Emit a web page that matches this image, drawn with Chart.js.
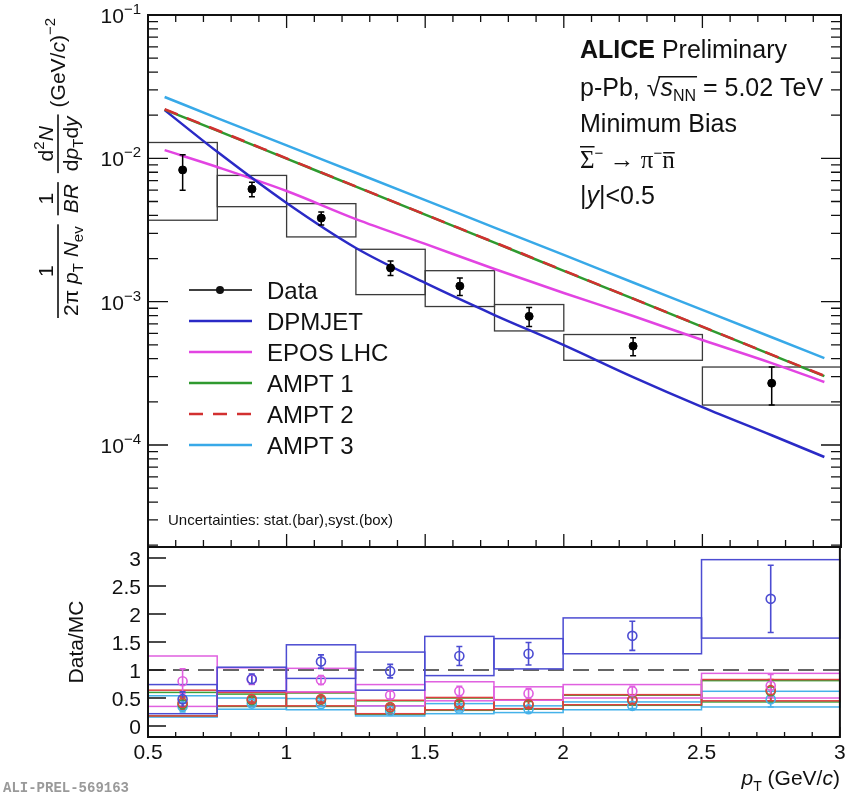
<!DOCTYPE html>
<html><head><meta charset="utf-8">
<script src="https://cdn.jsdelivr.net/npm/chart.js@4.4.0/dist/chart.umd.min.js"></script>
<style>
html,body{margin:0;padding:0;background:#fff;}
#wrap{position:relative;width:846px;height:796px;background:#fff;}
.layer{position:absolute;left:0;top:0;width:846px;height:796px;}
</style></head><body>
<div id="wrap">
<div class="layer"><canvas id="topChart" width="846" height="796"></canvas></div>
<div class="layer"><canvas id="ratioChart" width="846" height="796"></canvas></div>
</div>
<script>
// ---------------- data ----------------
const ptBinEdges = [0.5, 0.75, 1.0, 1.25, 1.5, 1.75, 2.0, 2.5, 3.0];
const ptCenters  = [0.625, 0.875, 1.125, 1.375, 1.625, 1.875, 2.25, 2.75];
const dataYield  = [8.3e-3, 6.1e-3, 3.83e-3, 1.72e-3, 1.285e-3, 7.9e-4, 4.9e-4, 2.7e-4];
const dataStat   = [2.3e-3, 0.7e-3, 0.4e-3, 0.2e-3, 0.18e-3, 1.2e-4, 0.7e-4, 0.8e-4];
const dataSyst   = [4.6e-3, 1.5e-3, 1.0e-3, 0.6e-3, 0.36e-3, 1.65e-4, 1.0e-4, 0.8e-4];

const modelPt = [0.56, 0.75, 1.0, 1.25, 1.5, 1.75, 2.0, 2.25, 2.5, 2.75, 2.94];
const dpmjet  = [2.17e-2, 1.11e-2, 4.88e-3, 2.37e-3, 1.35e-3, 8.07e-4, 4.98e-4, 2.98e-4, 1.84e-4, 1.17e-4, 8.25e-5];
const eposLHC = [1.14e-2, 8.70e-3, 5.92e-3, 3.77e-3, 2.53e-3, 1.69e-3, 1.15e-3, 7.94e-4, 5.40e-4, 3.73e-4, 2.75e-4];
const ampt1   = [2.19e-2, 1.56e-2, 9.95e-3, 6.35e-3, 4.05e-3, 2.58e-3, 1.64e-3, 1.05e-3, 6.68e-4, 4.26e-4, 3.02e-4];
const ampt2   = [2.20e-2, 1.57e-2, 1.00e-2, 6.37e-3, 4.06e-3, 2.59e-3, 1.65e-3, 1.05e-3, 6.70e-4, 4.27e-4, 3.04e-4];
const ampt3   = [2.68e-2, 1.91e-2, 1.23e-2, 7.93e-3, 5.11e-3, 3.29e-3, 2.12e-3, 1.36e-3, 8.77e-4, 5.65e-4, 4.04e-4];

// Data/MC ratios
const ratioDpmjet     = [0.48, 0.84, 1.15, 0.98, 1.25, 1.29, 1.61, 2.27];
const ratioDpmjetStat = [0.13, 0.09, 0.12, 0.12, 0.17, 0.20, 0.26, 0.60];
const ratioDpmjetSyst = [0.26, 0.21, 0.30, 0.34, 0.35, 0.27, 0.32, 0.70];
const ratioEpos       = [0.80, 0.83, 0.82, 0.55, 0.62, 0.58, 0.62, 0.72];
const ratioEposStat   = [0.22, 0.09, 0.08, 0.07, 0.09, 0.09, 0.09, 0.20];
const ratioEposSyst   = [0.45, 0.21, 0.21, 0.19, 0.17, 0.12, 0.12, 0.22];
const ratioAmpt1      = [0.39, 0.46, 0.47, 0.33, 0.39, 0.38, 0.46, 0.62];
const ratioAmpt1Stat  = [0.11, 0.05, 0.05, 0.04, 0.05, 0.06, 0.06, 0.19];
const ratioAmpt1Syst  = [0.21, 0.11, 0.12, 0.12, 0.11, 0.08, 0.09, 0.19];
const ratioAmpt2      = [0.41, 0.48, 0.48, 0.34, 0.40, 0.39, 0.47, 0.64];
const ratioAmpt2Stat  = [0.11, 0.05, 0.05, 0.04, 0.06, 0.06, 0.07, 0.19];
const ratioAmpt2Syst  = [0.23, 0.12, 0.12, 0.12, 0.11, 0.08, 0.09, 0.19];
const ratioAmpt3      = [0.35, 0.40, 0.39, 0.27, 0.31, 0.30, 0.36, 0.48];
const ratioAmpt3Stat  = [0.10, 0.04, 0.04, 0.03, 0.04, 0.05, 0.05, 0.14];
const ratioAmpt3Syst  = [0.19, 0.10, 0.10, 0.09, 0.09, 0.06, 0.07, 0.14];

const yDecadeExponents = [-1, -2, -3, -4];
const ratioTickValues  = [0, 0.5, 1, 1.5, 2, 2.5, 3];
const ratioTickLabels  = ['0', '0.5', '1', '1.5', '2', '2.5', '3'];
const xTickValues      = [0.5, 1, 1.5, 2, 2.5, 3];
const xTickLabels      = ['0.5', '1', '1.5', '2', '2.5', '3'];
const legendLabels     = ['Data', 'DPMJET', 'EPOS LHC', 'AMPT 1', 'AMPT 2', 'AMPT 3'];

// ---------------- style ----------------
const FONT = '"Liberation Sans", Arimo, Arial, Helvetica, sans-serif';
const SERIF = '"Liberation Serif", "DejaVu Serif", serif';
const C = { dpm:'#2a2ac6', epos:'#e244e2', a1:'#2f9a2f', a2:'#d23030', a3:'#38a9e8' };
const CR = { dpm:'#4c4cd2', epos:'#e060e0', a1:'#3aa03a', a2:'#e04040', a3:'#45b2ea' };
const INK = '#111';

function setFont(ctx, r){ ctx.font = `${r.st||'normal'} ${r.w||'normal'} ${r.s}px ${r.f||FONT}`; }
function runsWidth(ctx, runs){ let w=0; for(const r of runs){ setFont(ctx,r); w += ctx.measureText(r.t).width; } return w; }
function drawRuns(ctx, x, y, runs){
  ctx.textAlign='left'; ctx.textBaseline='alphabetic';
  let cx=x; const pos=[];
  for(const r of runs){ setFont(ctx,r); ctx.fillText(r.t, cx, y+(r.dy||0)); const w=ctx.measureText(r.t).width; pos.push([cx,w]); cx+=w; }
  return pos;
}
function drawFrac(ctx,u,num,den,S){
  const wn=runsWidth(ctx,num), wd=runsWidth(ctx,den); const w=Math.max(wn,wd)+4;
  drawRuns(ctx,u+(w-wn)/2,-5,num);
  drawRuns(ctx,u+(w-wd)/2,20,den);
  ctx.fillRect(u,-0.8,w,1.6);
  return w;
}

function frame(ctx, a){
  ctx.save(); ctx.strokeStyle=INK; ctx.lineWidth=2;
  ctx.strokeRect(a.left, a.top, a.right-a.left, a.bottom-a.top); ctx.restore();
}

// ---------------- top panel plugin ----------------
const topDeco = {
  id:'topDeco',
  beforeDatasetsDraw(chart){
    const {ctx, scales:{x,y}} = chart;
    ctx.save(); ctx.strokeStyle='#3a3a3a'; ctx.lineWidth=1.3;
    for(let i=0;i<ptCenters.length;i++){
      const x0=x.getPixelForValue(ptBinEdges[i]), x1=x.getPixelForValue(ptBinEdges[i+1]);
      const y0=y.getPixelForValue(dataYield[i]+dataSyst[i]), y1=y.getPixelForValue(dataYield[i]-dataSyst[i]);
      ctx.strokeRect(x0,y0,x1-x0,y1-y0);
    }
    ctx.restore();
  },
  afterDatasetsDraw(chart){
    const {ctx, scales:{x,y}} = chart;
    ctx.save(); ctx.strokeStyle='#000'; ctx.lineWidth=1.5;
    for(let i=0;i<ptCenters.length;i++){
      const px=x.getPixelForValue(ptCenters[i]);
      const y0=y.getPixelForValue(dataYield[i]+dataStat[i]), y1=y.getPixelForValue(dataYield[i]-dataStat[i]);
      ctx.beginPath(); ctx.moveTo(px,y0); ctx.lineTo(px,y1);
      ctx.moveTo(px-3,y0); ctx.lineTo(px+3,y0); ctx.moveTo(px-3,y1); ctx.lineTo(px+3,y1); ctx.stroke();
    }
    ctx.restore();
  },
  afterDraw(chart){
    const {ctx, chartArea:a, scales:{x,y}} = chart;
    ctx.save();
    frame(ctx,a);
    ctx.strokeStyle=INK; ctx.lineWidth=1.3; ctx.beginPath();
    for(let k=0;k<=25;k++){
      const v=0.5+k*0.1; const px=x.getPixelForValue(v); const major=(k%5===0);
      const L=major?13:7;
      ctx.moveTo(px,a.top); ctx.lineTo(px,a.top+L);
      ctx.moveTo(px,a.bottom); ctx.lineTo(px,a.bottom-L);
    }
    for(let d=-5; d<=-1; d++){
      for(let m=1;m<=9;m++){
        const v=m*Math.pow(10,d); if(v<y.min||v>y.max*1.0001) continue;
        const py=y.getPixelForValue(v); const L=(m===1)?20:10;
        ctx.moveTo(a.left,py); ctx.lineTo(a.left+L,py);
        ctx.moveTo(a.right,py); ctx.lineTo(a.right-L,py);
      }
    }
    ctx.stroke();
    ctx.fillStyle=INK;
    for(const e of yDecadeExponents){
      const py=y.getPixelForValue(Math.pow(10,e));
      const runs=[{t:'10',s:21},{t:'\u2212'+Math.abs(e),s:15,dy:-9}];
      const w=runsWidth(ctx,runs); drawRuns(ctx,141-w,py+8,runs);
    }
    // y title
    ctx.save(); ctx.translate(58,318); ctx.rotate(-Math.PI/2); ctx.fillStyle=INK;
    const S=21, s=15; let u=0;
    u+=drawFrac(ctx,u,[{t:'1',s:S}],[{t:'2\u03c0 ',s:S},{t:'p',s:S,st:'italic'},{t:'T',s:s,dy:5},{t:' ',s:S},{t:'N',s:S,st:'italic'},{t:'ev',s:s,dy:5}],S);
    u+=9;
    u+=drawFrac(ctx,u,[{t:'1',s:S}],[{t:'BR',s:S,st:'italic'}],S);
    u+=9;
    u+=drawFrac(ctx,u,[{t:'d',s:S},{t:'2',s:s,dy:-9},{t:'N',s:S,st:'italic'}],[{t:'d',s:S},{t:'p',s:S,st:'italic'},{t:'T',s:s,dy:5},{t:'d',s:S},{t:'y',s:S,st:'italic'}],S);
    u+=7;
    drawRuns(ctx,u,7,[{t:'(GeV/',s:S},{t:'c',s:S,st:'italic'},{t:')',s:S},{t:'\u22122',s:s,dy:-10}]);
    ctx.restore();

    // text box
    const TX=580, TS=25;
    drawRuns(ctx,TX,58,[{t:'ALICE',s:TS,w:'bold'},{t:' Preliminary',s:TS}]);
    let p=drawRuns(ctx,TX,96,[{t:'p-Pb, ',s:TS},{t:'\u221a',s:TS},{t:'s',s:TS,st:'italic'},{t:'NN',s:16,dy:5},{t:' = 5.02 TeV',s:TS}]);
    ctx.fillRect(p[1][0]+p[1][1]-2, 96-20, p[3][0]+p[3][1]-(p[1][0]+p[1][1]-2)+1, 1.5);
    drawRuns(ctx,TX,132,[{t:'Minimum Bias',s:TS}]);
    p=drawRuns(ctx,TX,168,[{t:'\u03a3',s:TS,f:SERIF},{t:'\u2212',s:15,dy:-10},{t:' \u2192 ',s:TS,f:SERIF},{t:'\u03c0',s:TS,f:SERIF},{t:'\u2212',s:15,dy:-10},{t:'n',s:TS,f:SERIF}]);
    ctx.fillRect(p[0][0], 168-22, p[0][1], 1.5);
    ctx.fillRect(p[5][0]+1, 168-16, p[5][1]-1, 1.5);
    drawRuns(ctx,TX,204,[{t:'|',s:TS},{t:'y',s:TS,st:'italic'},{t:'|<0.5',s:TS}]);

    // legend
    const legendColors=['#000',C.dpm,C.epos,C.a1,C.a2,C.a3];
    const legendY=[290,321,352,383,414,445];
    for(let i=0;i<legendLabels.length;i++){
      const ly=legendY[i];
      ctx.save(); ctx.strokeStyle=legendColors[i]; ctx.lineWidth=(i===0)?1.5:2.5;
      if(i===4) ctx.setLineDash([14,10]);
      ctx.beginPath(); ctx.moveTo(189,ly); ctx.lineTo(252,ly); ctx.stroke(); ctx.restore();
      if(i===0){ ctx.beginPath(); ctx.arc(220,ly,4,0,Math.PI*2); ctx.fill(); }
      ctx.fillStyle=INK; drawRuns(ctx,267,ly+9,[{t:legendLabels[i],s:24}]);
    }
    drawRuns(ctx,168,525,[{t:'Uncertainties: stat.(bar),syst.(box)',s:15}]);
    ctx.restore();
  }
};

const lineDS=(label,arr,color,order,dash)=>({
  label, data:modelPt.map((v,i)=>({x:v,y:arr[i]})), borderColor:color, borderWidth:2.5,
  borderDash:dash||[], pointRadius:0, fill:false, cubicInterpolationMode:'monotone', order
});

new Chart(document.getElementById('topChart'),{
  type:'line',
  data:{datasets:[
    {label:'Data', data:ptCenters.map((v,i)=>({x:v,y:dataYield[i]})), showLine:false,
     pointRadius:4, pointBackgroundColor:'#000', pointBorderColor:'#000', order:0},
    lineDS('AMPT 2',ampt2,C.a2,1,[14,10]),
    lineDS('AMPT 1',ampt1,C.a1,2),
    lineDS('DPMJET',dpmjet,C.dpm,3),
    lineDS('EPOS LHC',eposLHC,C.epos,4),
    lineDS('AMPT 3',ampt3,C.a3,5)
  ]},
  options:{
    responsive:false, animation:false, events:[],
    layout:{padding:{left:148,right:4,top:15,bottom:249}},
    plugins:{legend:{display:false},tooltip:{enabled:false}},
    scales:{
      x:{type:'linear',min:0.5,max:3,display:false},
      y:{type:'logarithmic',min:1.943e-5,max:0.1,display:false}
    }
  },
  plugins:[topDeco]
});

// ---------------- ratio panel ----------------
const ratioModels = [
  {r:ratioAmpt3, st:ratioAmpt3Stat, sy:ratioAmpt3Syst, c:CR.a3},
  {r:ratioAmpt1, st:ratioAmpt1Stat, sy:ratioAmpt1Syst, c:CR.a1},
  {r:ratioAmpt2, st:ratioAmpt2Stat, sy:ratioAmpt2Syst, c:CR.a2},
  {r:ratioEpos,  st:ratioEposStat,  sy:ratioEposSyst,  c:CR.epos},
  {r:ratioDpmjet,st:ratioDpmjetStat,sy:ratioDpmjetSyst,c:CR.dpm}
];

const ratioDeco = {
  id:'ratioDeco',
  beforeDatasetsDraw(chart){
    const {ctx, chartArea:a, scales:{x,y}} = chart;
    ctx.save();
    ctx.strokeStyle='#333'; ctx.lineWidth=1.6; ctx.setLineDash([16,9]);
    const p1=y.getPixelForValue(1);
    ctx.beginPath(); ctx.moveTo(a.left,p1); ctx.lineTo(a.right,p1); ctx.stroke();
    ctx.setLineDash([]);
    for(const m of ratioModels){
      ctx.strokeStyle=m.c; ctx.lineWidth=1.5;
      for(let i=0;i<ptCenters.length;i++){
        const x0=x.getPixelForValue(ptBinEdges[i]), x1=x.getPixelForValue(ptBinEdges[i+1]);
        const y0=y.getPixelForValue(m.r[i]+m.sy[i]), y1=y.getPixelForValue(m.r[i]-m.sy[i]);
        ctx.strokeRect(x0,y0,x1-x0,y1-y0);
      }
    }
    for(const m of ratioModels){
      ctx.strokeStyle=m.c; ctx.lineWidth=1.6; ctx.beginPath();
      for(let i=0;i<ptCenters.length;i++){
        const px=x.getPixelForValue(ptCenters[i]);
        const y0=y.getPixelForValue(m.r[i]+m.st[i]), y1=y.getPixelForValue(m.r[i]-m.st[i]);
        ctx.moveTo(px,y0); ctx.lineTo(px,y1);
        ctx.moveTo(px-3,y0); ctx.lineTo(px+3,y0); ctx.moveTo(px-3,y1); ctx.lineTo(px+3,y1);
      }
      ctx.stroke();
    }
    ctx.restore();
  },
  afterDraw(chart){
    const {ctx, chartArea:a, scales:{x,y}} = chart;
    ctx.save();
    frame(ctx,a);
    ctx.strokeStyle=INK; ctx.lineWidth=1.3; ctx.beginPath();
    for(let k=0;k<=25;k++){
      const v=0.5+k*0.1; const px=x.getPixelForValue(v); const L=(k%5===0)?10:5;
      ctx.moveTo(px,a.bottom); ctx.lineTo(px,a.bottom-L);
    }
    for(const v of ratioTickValues){
      const py=y.getPixelForValue(v); ctx.moveTo(a.left,py); ctx.lineTo(a.left+18,py);
    }
    ctx.stroke();
    ctx.fillStyle=INK;
    for(let i=0;i<ratioTickValues.length;i++){
      const py=y.getPixelForValue(ratioTickValues[i]);
      const runs=[{t:ratioTickLabels[i],s:21}]; const w=runsWidth(ctx,runs);
      drawRuns(ctx,141-w,py+8,runs);
    }
    for(let i=0;i<xTickValues.length;i++){
      const px=x.getPixelForValue(xTickValues[i]);
      const runs=[{t:xTickLabels[i],s:21}]; const w=runsWidth(ctx,runs);
      drawRuns(ctx,px-w/2,759,runs);
    }
    const xt=[{t:'p',s:21,st:'italic'},{t:'T',s:14,dy:6},{t:' (GeV/',s:21},{t:'c',s:21,st:'italic'},{t:')',s:21}];
    const wx=runsWidth(ctx,xt); drawRuns(ctx,a.right-wx,785,xt);
    ctx.save(); ctx.translate(83,642); ctx.rotate(-Math.PI/2);
    const yt=[{t:'Data/MC',s:21}]; const wy=runsWidth(ctx,yt); drawRuns(ctx,-wy/2,0,yt);
    ctx.restore();
    ctx.fillStyle='#9a9a9a';
    drawRuns(ctx,3,792,[{t:'ALI-PREL-569163',s:14,w:'bold',f:'"Liberation Mono", "DejaVu Sans Mono", monospace'}]);
    ctx.restore();
  }
};

const ptDS=(label,arr,color,order)=>({
  label, data:ptCenters.map((v,i)=>({x:v,y:arr[i]})), showLine:false,
  pointRadius:4.5, pointBorderWidth:1.6, pointBackgroundColor:'rgba(255,255,255,0)', pointBorderColor:color, order
});

new Chart(document.getElementById('ratioChart'),{
  type:'line',
  data:{datasets:[
    ptDS('DPMJET',ratioDpmjet,CR.dpm,0),
    ptDS('EPOS LHC',ratioEpos,CR.epos,1),
    ptDS('AMPT 2',ratioAmpt2,CR.a2,2),
    ptDS('AMPT 1',ratioAmpt1,CR.a1,3),
    ptDS('AMPT 3',ratioAmpt3,CR.a3,4)
  ]},
  options:{
    responsive:false, animation:false, events:[],
    layout:{padding:{left:148,right:4,top:547,bottom:59}},
    plugins:{legend:{display:false},tooltip:{enabled:false}},
    scales:{
      x:{type:'linear',min:0.5,max:3,display:false},
      y:{type:'linear',min:-0.196,max:3.196,display:false}
    }
  },
  plugins:[ratioDeco]
});
</script>
</body></html>
